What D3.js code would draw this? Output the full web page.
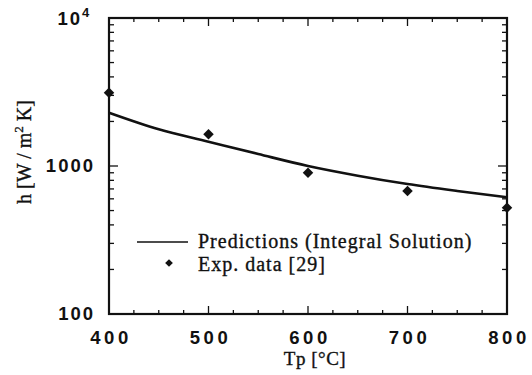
<!DOCTYPE html>
<html>
<head>
<meta charset="utf-8">
<script src="https://cdn.jsdelivr.net/npm/d3@7"></script>
<style>
  body { margin: 0; background: #fff; }
  .tick-label { font-family: "Liberation Sans", Arial, sans-serif; font-size: 18.5px; font-weight: bold; fill: #111; }
  .serif { font-family: "Liberation Serif", "Times New Roman", serif; fill: #111; stroke: #111; stroke-width: 0.35px; }
</style>
</head>
<body>
<svg id="chart" width="532" height="375"></svg>
<script>
// Data
const predT = [400, 450, 500, 550, 600, 650, 700, 750, 800];
const predH = [2290, 1770, 1460, 1205, 1000, 860, 755, 678, 615];

const expT = [400, 500, 600, 700, 800];
const expH = [3120, 1640, 900, 678, 523];

const xTicks = [400, 500, 600, 700, 800];
const yTicks = [100, 1000, 10000];

const margin = { left: 109, right: 25, top: 18, bottom: 61 };
const width = 532, height = 375;

const svg = d3.select('#chart');

const x = d3.scaleLinear()
  .domain([400, 800])
  .range([margin.left, width - margin.right]);

const y = d3.scaleLog()
  .domain([100, 10000])
  .range([height - margin.bottom, margin.top]);

// minor ticks
const xMinor = d3.range(400, 801, 25).filter(d => d % 100 !== 0);
const yMinor = [];
[100, 1000].forEach(dec => {
  for (let k = 2; k <= 9; k++) yMinor.push(dec * k);
});

const x0 = x.range()[0], x1 = x.range()[1];
const y0 = y.range()[0], y1 = y.range()[1];

const ticks = svg.append('g').attr('stroke', '#111').attr('stroke-width', 1.3);

// x ticks (bottom and top, pointing in)
xTicks.forEach(d => {
  ticks.append('line').attr('x1', x(d)).attr('x2', x(d)).attr('y1', y0).attr('y2', y0 - 8);
  ticks.append('line').attr('x1', x(d)).attr('x2', x(d)).attr('y1', y1).attr('y2', y1 + 8);
});
xMinor.forEach(d => {
  ticks.append('line').attr('x1', x(d)).attr('x2', x(d)).attr('y1', y0).attr('y2', y0 - 4);
  ticks.append('line').attr('x1', x(d)).attr('x2', x(d)).attr('y1', y1).attr('y2', y1 + 4);
});

// y ticks (left and right, pointing in)
yTicks.forEach(d => {
  ticks.append('line').attr('x1', x0).attr('x2', x0 + 9).attr('y1', y(d)).attr('y2', y(d));
  ticks.append('line').attr('x1', x1).attr('x2', x1 - 9).attr('y1', y(d)).attr('y2', y(d));
});
yMinor.forEach(d => {
  ticks.append('line').attr('x1', x0).attr('x2', x0 + 5).attr('y1', y(d)).attr('y2', y(d));
  ticks.append('line').attr('x1', x1).attr('x2', x1 - 5).attr('y1', y(d)).attr('y2', y(d));
});

// frame
svg.append('rect')
  .attr('x', x0).attr('y', y1)
  .attr('width', x1 - x0).attr('height', y0 - y1)
  .attr('fill', 'none').attr('stroke', '#111').attr('stroke-width', 2.2);

// x tick labels
svg.append('g').selectAll('text')
  .data(xTicks).enter().append('text')
  .attr('class', 'tick-label')
  .attr('x', d => x(d) + 2)
  .attr('y', 344)
  .attr('text-anchor', 'middle')
  .style('letter-spacing', '3.5px')
  .text(d => d);

// y tick labels
const yl = svg.append('g').style('letter-spacing', '2px');
yl.append('text').attr('class', 'tick-label')
  .attr('x', 95).attr('y', y(100) + 6).attr('text-anchor', 'end').text('100');
yl.append('text').attr('class', 'tick-label')
  .attr('x', 95).attr('y', y(1000) + 6).attr('text-anchor', 'end').text('1000');
yl.append('text').attr('class', 'tick-label')
  .attr('x', 82).attr('y', y(10000) + 7).attr('text-anchor', 'end').text('10');
yl.append('text').attr('class', 'tick-label')
  .attr('x', 82).attr('y', y(10000) - 1).style('font-size', '13px').text('4');

// axis titles
svg.append('text').attr('class', 'serif')
  .attr('x', 315).attr('y', 365)
  .attr('text-anchor', 'middle')
  .style('font-size', '19px')
  .style('letter-spacing', '0.5px')
  .text('Tp [°C]');

const yt = svg.append('text').attr('class', 'serif')
  .attr('transform', 'translate(31,152) rotate(-90)')
  .attr('text-anchor', 'middle')
  .style('font-size', '20px');
yt.append('tspan').text('h [W / m');
yt.append('tspan').attr('dy', -8).style('font-size', '13px').text('2');
yt.append('tspan').attr('dy', 8).text(' K]');

// prediction line
const line = d3.line()
  .x((d, i) => x(predT[i]))
  .y(d => y(d))
  .curve(d3.curveMonotoneX);

svg.append('path')
  .datum(predH)
  .attr('d', line)
  .attr('fill', 'none')
  .attr('stroke', '#111')
  .attr('stroke-width', 2.6);

// experimental points
const diamond = d3.symbol().type(d3.symbolSquare).size(55);
svg.append('g').selectAll('path')
  .data(expH).enter().append('path')
  .attr('d', diamond)
  .attr('transform', (d, i) => `translate(${x(expT[i])},${y(d)}) rotate(45)`)
  .attr('fill', '#111');

// legend
const lg = svg.append('g');
lg.append('line')
  .attr('x1', 137).attr('x2', 188).attr('y1', 242).attr('y2', 242)
  .attr('stroke', '#111').attr('stroke-width', 1.6);
lg.append('text').attr('class', 'serif')
  .attr('x', 198).attr('y', 248)
  .style('font-size', '20px')
  .style('letter-spacing', '1px')
  .text('Predictions (Integral Solution)');
lg.append('path')
  .attr('d', d3.symbol().type(d3.symbolSquare).size(30))
  .attr('transform', 'translate(169,263) rotate(45)')
  .attr('fill', '#111');
lg.append('text').attr('class', 'serif')
  .attr('x', 198).attr('y', 271)
  .style('font-size', '20px')
  .style('letter-spacing', '1px')
  .text('Exp. data [29]');
</script>
</body>
</html>
